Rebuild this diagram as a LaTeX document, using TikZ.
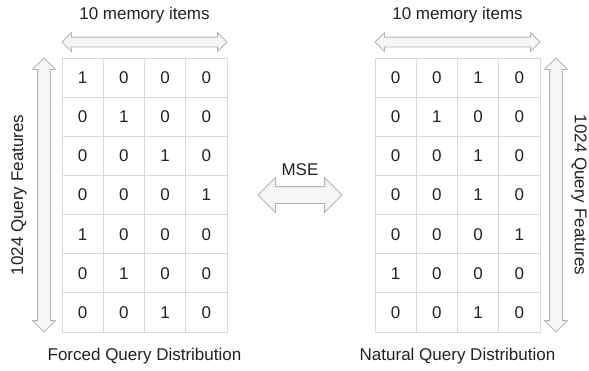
\documentclass[tikz,border=0pt]{standalone}
\usepackage{fontspec}
\setmainfont{Liberation Sans}
\usetikzlibrary{shapes,arrows,positioning}
\definecolor{gridgray}{HTML}{D9D9D9}
\definecolor{arrowgray}{HTML}{B5B5B5}
\definecolor{arrowfill}{HTML}{F5F5F5}
\definecolor{textgray}{HTML}{222222}
\tikzstyle{cell} = [rectangle, draw=gridgray, line width=1pt,
    minimum width=41.25pt, minimum height=39.15pt, inner sep=0pt, text=textgray]
\tikzstyle{fatarrow} = [double arrow, draw=arrowgray, fill=arrowfill,
    line width=0.8pt, inner xsep=0pt, double arrow head indent=0pt]
\tikzstyle{txt} = [text=textgray, inner sep=0pt]

\begin{document}
\begin{tikzpicture}[x=1pt, y=-1pt, font=\fontsize{17}{20}\selectfont]
\useasboundingbox (0,0) rectangle (589,370);
    % Forced grid
\foreach \rowvals [count=\rw from 0] in {{1,0,0,0},{0,1,0,0},{0,0,1,0},{0,0,0,1},{1,0,0,0},{0,1,0,0},{0,0,1,0}} {
  \foreach \v [count=\cl from 0] in \rowvals {
    \node[cell] (F-\rw-\cl) at ({62+41.25*(\cl+0.5)}, {58+39.15*(\rw+0.5)}) {\v};
  }
}
    % Natural grid
\foreach \rowvals [count=\rw from 0] in {{0,0,1,0},{0,1,0,0},{0,0,1,0},{0,0,1,0},{0,0,0,1},{1,0,0,0},{0,0,1,0}} {
  \foreach \v [count=\cl from 0] in \rowvals {
    \node[cell] (N-\rw-\cl) at ({375+41.25*(\cl+0.5)}, {58+39.15*(\rw+0.5)}) {\v};
  }
}

    % Arrows
\node[fatarrow, minimum height=165pt, inner ysep=4.5pt, double arrow head extend=4.5pt] (memF) at (144.5,42) {};
\node[fatarrow, minimum height=165pt, inner ysep=4.5pt, double arrow head extend=4.5pt] (memN) at (457.5,42) {};
\node[fatarrow, rotate=90, minimum height=274pt, inner ysep=6pt, double arrow head extend=5pt] (featF) at (44,195) {};
\node[fatarrow, rotate=90, minimum height=274pt, inner ysep=6pt, double arrow head extend=5pt] (featN) at (556,195) {};
\node[fatarrow, minimum height=84pt, inner ysep=8pt, double arrow head extend=9pt] (mse) at (300,195) {};

    % Labels
\node[txt] (memtxtF) at (144.5,15) {10 memory items};
\node[txt] (memtxtN) at (457.5,15) {10 memory items};
\node[txt, rotate=90] (feattxtF) at (19,195) {1024 Query Features};
\node[txt, rotate=-90] (feattxtN) at (579,195) {1024 Query Features};
\node[txt] (msetxt) at (300,170) {MSE};
\node[txt] (forced) at (144.5,356) {Forced Query Distribution};
\node[txt] (natural) at (457.5,356) {Natural Query Distribution};

\end{tikzpicture}
\end{document}
